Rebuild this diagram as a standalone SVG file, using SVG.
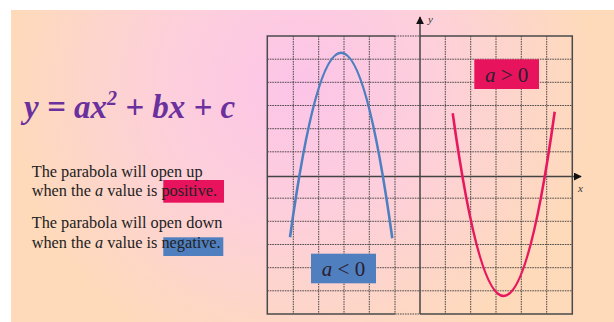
<svg xmlns="http://www.w3.org/2000/svg" width="614" height="322" viewBox="0 0 614 322">
<defs>
<radialGradient id="bg" gradientUnits="userSpaceOnUse" cx="300" cy="85" r="290">
<stop offset="0" stop-color="#fcc4e8"/>
<stop offset="0.45" stop-color="#fdcfdc"/>
<stop offset="1" stop-color="#fedabb"/>
</radialGradient>
<marker id="arr" viewBox="0 0 10 10" refX="9" refY="5" markerWidth="8" markerHeight="8" markerUnits="userSpaceOnUse" orient="auto">
<path d="M0,0 L10,5 L0,10 z" fill="#111"/>
</marker>
<style>
.grid{stroke:#3a3a3a;stroke-width:0.9;stroke-dasharray:1.6 0.9;fill:none}
.border{stroke:#4a4a4a;stroke-width:1.5;fill:none}
.axis{stroke:#444;stroke-width:1.5;fill:none}
.body{font-family:"Liberation Serif",serif;font-size:16.3px;fill:#222}
.lab{font-family:"Liberation Serif",serif;font-size:21px;fill:#2a2030}
.ax{font-family:"Liberation Serif",serif;font-style:italic;font-size:11px;fill:#333}
</style>
</defs>
<rect x="0" y="0" width="614" height="322" fill="#ffffff"/>
<rect id="background" x="11" y="10" width="603" height="312" fill="url(#bg)"/>

<g id="graph">
<g id="gridlines">
<path class="grid" d="M293.3,36V314 M318.7,36V314 M344,36V314 M369.3,36V314 M395,36V314 M445.3,36V314 M470.7,36V314 M496,36V314 M521.3,36V314 M546.7,36V314"/>
<path class="grid" d="M267.3,59.2H572.3 M267.3,82.3H572.3 M267.3,105.5H572.3 M267.3,128.7H572.3 M267.3,151.8H572.3 M267.3,198.2H572.3 M267.3,221.3H572.3 M267.3,244.5H572.3 M267.3,267.7H572.3 M267.3,290.8H572.3"/>
<path class="grid" d="M395,36H420 M395,314H420"/>
</g>
<path class="border" d="M395,36H267.3V314H395 M420,36H572.3V314H420"/>
<line id="y-axis" class="axis" x1="420" y1="314" x2="420" y2="17" marker-end="url(#arr)"/>
<line id="x-axis" class="axis" x1="267.3" y1="176.5" x2="581" y2="176.5" marker-end="url(#arr)"/>
<text class="ax" x="428" y="23">y</text>
<text class="ax" x="578" y="192">x</text>
</g>

<g id="curves">
<path id="down-parabola" d="M290,237.3 Q341.2,-132.4 392.3,238.3" fill="none" stroke="#4f7fbf" stroke-width="2.6"/>
<path id="up-parabola" d="M452.7,113.3 Q503.7,479.5 554.7,111.7" fill="none" stroke="#e8185f" stroke-width="2.6"/>
</g>

<g id="label-pos">
<rect x="474.3" y="59.3" width="64.7" height="29.7" fill="#e8135d"/>
<text class="lab" x="506.7" y="81.5" text-anchor="middle"><tspan font-style="italic">a</tspan> &gt; 0</text>
</g>
<g id="label-neg">
<rect x="311" y="253.7" width="65" height="29.6" fill="#4f7fbf"/>
<text class="lab" x="343.5" y="276" text-anchor="middle"><tspan font-style="italic">a</tspan> &lt; 0</text>
</g>

<g id="formula">
<text x="24" y="118" font-family="'Liberation Serif',serif" font-weight="bold" font-style="italic" font-size="33" fill="#6b2f9e">y = ax<tspan font-size="20" dy="-13">2</tspan><tspan dy="13"> + bx + c</tspan></text>
</g>

<g id="text-up">
<rect x="163.3" y="180" width="60.7" height="22.7" fill="#e8135d"/>
<text class="body" x="31.7" y="176.7">The parabola will open up</text>
<text class="body" x="31.7" y="196">when the <tspan font-style="italic">a</tspan> value is positive.</text>
</g>
<g id="text-down">
<rect x="163.3" y="237.3" width="60" height="18.7" fill="#4f7fbf"/>
<text class="body" x="31.7" y="228.3">The parabola will open down</text>
<text class="body" x="31.7" y="247.7">when the <tspan font-style="italic">a</tspan> value is negative.</text>
</g>
</svg>
